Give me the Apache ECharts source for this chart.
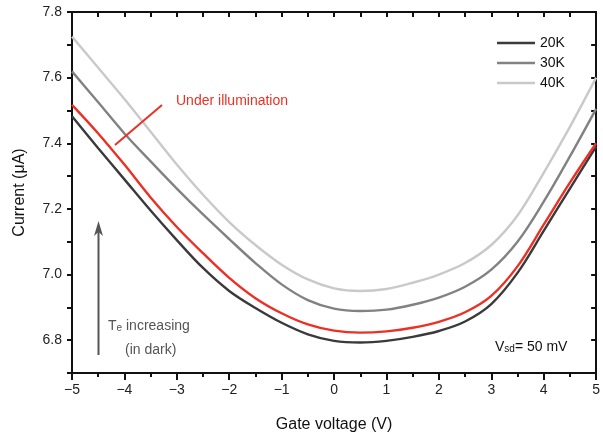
<!DOCTYPE html>
<html>
<head>
<meta charset="utf-8">
<script src="https://cdn.jsdelivr.net/npm/echarts@6/dist/echarts.min.js"></script>
<style>
  html, body { margin: 0; padding: 0; background: #fff; }
  #chart { width: 603px; height: 438px; }
</style>
</head>
<body>
<div id="chart"></div>
<script>
// Gate voltage sweep (V)
const gateV = [-5, -4.5, -4, -3.5, -3, -2.5, -2, -1.5, -1, -0.5, 0, 0.5, 1, 1.5, 2, 2.5, 3, 3.5, 4, 4.5, 5];

// Source-drain current (µA) in dark at three temperatures, and under illumination
const i20K = [7.482, 7.385, 7.290, 7.195, 7.105, 7.020, 6.950, 6.898, 6.853, 6.818, 6.798, 6.793, 6.798, 6.810, 6.828, 6.857, 6.910, 7.005, 7.133, 7.262, 7.390];
const i30K = [7.619, 7.525, 7.430, 7.345, 7.262, 7.183, 7.108, 7.035, 6.970, 6.922, 6.896, 6.889, 6.893, 6.908, 6.930, 6.963, 7.015, 7.100, 7.222, 7.360, 7.505];
const i40K = [7.725, 7.630, 7.535, 7.435, 7.335, 7.243, 7.160, 7.090, 7.030, 6.985, 6.958, 6.950, 6.956, 6.975, 7.000, 7.035, 7.090, 7.180, 7.310, 7.450, 7.600];
const iIllum = [7.517, 7.430, 7.335, 7.235, 7.145, 7.065, 6.990, 6.928, 6.882, 6.848, 6.829, 6.823, 6.827, 6.838, 6.856, 6.885, 6.935, 7.025, 7.152, 7.280, 7.400];

const seriesNames = ['20K', '30K', '40K'];
const FONT = 'Liberation Sans, Arial, sans-serif';

const pair = ys => gateV.map((x, i) => [x, ys[i]]);
const minus = v => String(v).replace('-', '\u2212');

const chart = echarts.init(document.getElementById('chart'), null, { renderer: 'canvas' });

const lineSeries = (name, data, color, z) => ({
  name: name,
  type: 'line',
  data: pair(data),
  smooth: 0.35,
  symbol: 'none',
  z: z,
  lineStyle: { color: color, width: 2.4 },
  itemStyle: { color: color }
});

chart.setOption({
  animation: false,
  backgroundColor: '#fff',
  textStyle: { fontFamily: FONT },
  grid: { left: 72, right: 3, top: 12, bottom: 64 },
  legend: {
    data: seriesNames,
    orient: 'vertical',
    left: 492,
    top: 31,
    icon: 'rect',
    itemWidth: 38,
    itemHeight: 2.5,
    itemGap: 6,
    textStyle: { fontSize: 14, lineHeight: 14, color: '#111', fontFamily: FONT },
    selectedMode: false
  },
  xAxis: [{
    type: 'value',
    min: -5, max: 5, interval: 1,
    name: 'Gate voltage (V)',
    nameLocation: 'middle',
    nameGap: 44,
    nameTextStyle: { fontSize: 16, color: '#111', fontFamily: FONT },
    axisLine: { onZero: false, lineStyle: { color: '#111', width: 2 } },
    axisTick: { length: 7, lineStyle: { color: '#111', width: 2 } },
    minorTick: { show: true, splitNumber: 2, length: 4, lineStyle: { color: '#111', width: 2 } },
    splitLine: { show: false },
    axisLabel: { fontSize: 14, color: '#222', margin: 10, formatter: minus, fontFamily: FONT }
  }, {
    type: 'value',
    position: 'top',
    min: -5, max: 5, interval: 0.5,
    axisLine: { onZero: false, lineStyle: { color: '#111', width: 2 } },
    axisTick: { inside: true, length: 5, lineStyle: { color: '#111', width: 2 } },
    splitLine: { show: false },
    axisLabel: { show: false }
  }],
  yAxis: [{
    type: 'value',
    min: 6.7, max: 7.8, interval: 0.1,
    name: 'Current (\u03bcA)',
    nameLocation: 'middle',
    nameGap: 44,
    nameRotate: 90,
    nameTextStyle: { fontSize: 16, color: '#111', fontFamily: FONT },
    axisLine: { show: true, onZero: false, lineStyle: { color: '#111', width: 2 } },
    axisTick: { show: true, length: 5, lineStyle: { color: '#111', width: 2 } },
    splitLine: { show: false },
    axisLabel: {
      fontSize: 14, color: '#222', margin: 10, fontFamily: FONT,
      formatter: v => (Math.round(v * 10) % 2 === 0 ? v.toFixed(1) : '')
    }
  }, {
    type: 'value',
    position: 'right',
    min: 6.7, max: 7.8, interval: 0.1,
    axisLine: { show: true, onZero: false, lineStyle: { color: '#111', width: 2 } },
    axisTick: { show: true, inside: true, length: 5, lineStyle: { color: '#111', width: 2 } },
    splitLine: { show: false },
    axisLabel: { show: false }
  }],
  series: [
    lineSeries('40K', i40K, '#c9c9c9', 2),
    lineSeries('30K', i30K, '#828282', 3),
    lineSeries('20K', i20K, '#3a3a3a', 4),
    lineSeries('Illuminated', iIllum, '#ec3024', 5)
  ],
  graphic: [
    // label and pointer for the illuminated curve
    {
      type: 'text', left: 176, top: 94, z: 20,
      style: { text: 'Under illumination', fill: '#ec3024', font: '14px ' + FONT }
    },
    {
      type: 'line', z: 20,
      shape: { x1: 162, y1: 105, x2: 115, y2: 145 },
      style: { stroke: '#ec3024', lineWidth: 2 }
    },
    // arrow: electron temperature rising in the dark
    {
      type: 'line', z: 20,
      shape: { x1: 98.5, y1: 355, x2: 98.5, y2: 232 },
      style: { stroke: '#555', lineWidth: 2 }
    },
    {
      type: 'polygon', z: 20,
      shape: { points: [[98.5, 221], [94, 236], [98.5, 232], [103, 236]] },
      style: { fill: '#555' }
    },
    {
      type: 'text', left: 108, top: 319, z: 20,
      style: {
        text: '{a|T}{s|e}{a| increasing}',
        rich: {
          a: { fontSize: 14, fill: '#555', fontFamily: FONT, verticalAlign: 'bottom' },
          s: { fontSize: 10, fill: '#555', fontFamily: FONT, padding: [6, 0, 0, 0], verticalAlign: 'bottom' }
        }
      }
    },
    {
      type: 'text', left: 125, top: 343, z: 20,
      style: { text: '(in dark)', fill: '#555', font: '14px ' + FONT }
    },
    // bias condition
    {
      type: 'text', left: 495, top: 340, z: 20,
      style: {
        text: '{a|V}{s|sd}{a|= 50 mV}',
        rich: {
          a: { fontSize: 14, fill: '#111', fontFamily: FONT, verticalAlign: 'bottom' },
          s: { fontSize: 10, fill: '#111', fontFamily: FONT, padding: [6, 0, 0, 0], verticalAlign: 'bottom' }
        }
      }
    }
  ]
});
</script>
</body>
</html>
